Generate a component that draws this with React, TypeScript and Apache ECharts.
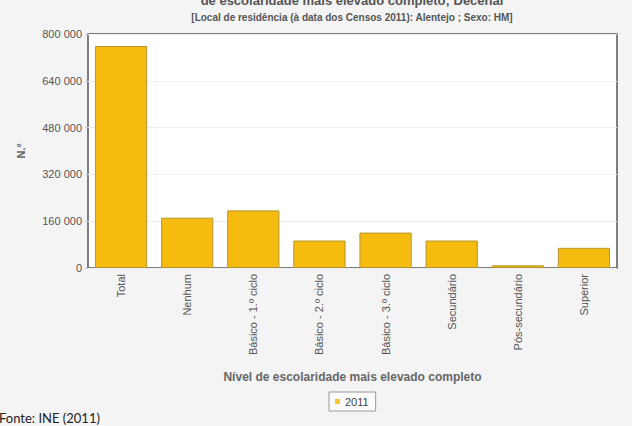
import React, { useEffect, useRef } from "react";
import * as echarts from "echarts";

const categories = [
  "Total",
  "Nenhum",
  "Básico - 1.º ciclo",
  "Básico - 2.º ciclo",
  "Básico - 3.º ciclo",
  "Secundário",
  "Pós-secundário",
  "Superior",
];
const values2011 = [759000, 172000, 197000, 94000, 121000, 94000, 9000, 69000];
const seriesName = "2011";
const titleLine = "de escolaridade mais elevado completo; Decenal";
const subtitle = "[Local de residência (à data dos Censos 2011): Alentejo ; Sexo: HM]";
const xAxisName = "Nível de escolaridade mais elevado completo";
const yAxisName = "N.º";
const sourceNote = "Fonte: INE (2011)";

function fmt(v: number) {
  return String(v).replace(/\B(?=(\d{3})+(?!\d))/g, " ");
}

export default function App() {
  const ref = useRef<HTMLDivElement>(null);
  useEffect(() => {
    if (!ref.current) return;
    const chart = echarts.init(ref.current, undefined, { renderer: "svg" });
    const font = "'Liberation Sans', Arial, sans-serif";
    chart.setOption({
      animation: false,
      backgroundColor: "#f4f4f4",
      textStyle: { fontFamily: font },
      grid: {
        left: 88,
        top: 34,
        right: 15,
        bottom: 158,
        show: true,
        backgroundColor: "#ffffff",
        borderColor: "#555555",
        borderWidth: 1.5,
      },
      legend: {
        data: [seriesName],
        left: 329,
        top: 392,
        orient: "horizontal",
        backgroundColor: "#fbfbfb",
        borderColor: "#9a9a9a",
        borderWidth: 1,
        padding: [4, 7, 4, 6],
        itemWidth: 5,
        itemHeight: 5,
        itemGap: 4,
        icon: "rect",
        itemStyle: { color: "#f5c535", borderWidth: 0 },
        textStyle: { fontSize: 11, color: "#444", fontFamily: font },
      },
      xAxis: {
        type: "category",
        data: categories,
        name: xAxisName,
        nameLocation: "middle",
        nameGap: 103,
        nameTextStyle: { fontSize: 12, fontWeight: "bold", color: "#666" },
        axisLine: { show: false },
        axisTick: { show: false },
        axisLabel: {
          rotate: 90,
          fontSize: 11,
          color: "#555",
          margin: 6,
          interval: 0,
        },
      },
      yAxis: {
        type: "value",
        min: 0,
        max: 800000,
        interval: 160000,
        name: yAxisName,
        nameLocation: "middle",
        nameGap: 62,
        nameTextStyle: { fontSize: 11, fontWeight: "bold", color: "#666" },
        axisLine: { show: false },
        axisTick: { show: true, length: 3, lineStyle: { color: "#ccc" } },
        axisLabel: {
          fontSize: 11,
          color: "#555",
          margin: 6,
          formatter: (v: number) => fmt(v),
        },
        splitLine: { lineStyle: { color: "#eeeeee", width: 1 } },
      },
      series: [
        {
          name: seriesName,
          type: "bar",
          data: values2011,
          barCategoryGap: "21%",
          itemStyle: {
            color: "#f5bb0f",
            borderColor: "#b8962e",
            borderWidth: 1,
          },
        },
      ],
      graphic: [
        {
          type: "text",
          style: {
            text: titleLine,
            x: 352,
            y: 0,
            textAlign: "center",
            textVerticalAlign: "middle",
            fontSize: 13,
            fontWeight: "bold",
            fill: "#555",
            fontFamily: font,
          },
        },
        {
          type: "text",
          style: {
            text: subtitle,
            x: 352,
            y: 17,
            textAlign: "center",
            textVerticalAlign: "middle",
            fontSize: 10,
            fontWeight: "bold",
            fill: "#555",
            fontFamily: font,
          },
        },
        {
          type: "text",
          style: {
            text: sourceNote,
            x: -1,
            y: 418,
            textAlign: "left",
            textVerticalAlign: "middle",
            fontSize: 13,
            fill: "#222",
            fontFamily: "Lato, 'Open Sans', sans-serif",
          },
        },
      ],
    });
    return () => chart.dispose();
  }, []);
  return (
    <div
      ref={ref}
      style={{ position: "absolute", left: 0, top: 0, width: 632, height: 426 }}
    />
  );
}
